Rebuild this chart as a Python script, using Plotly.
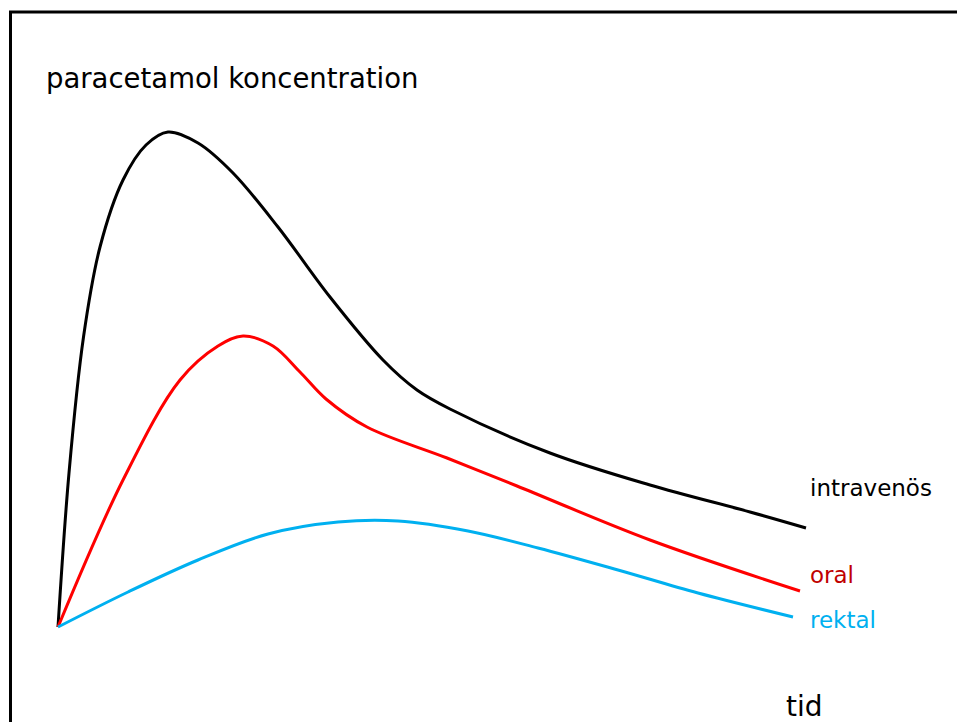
import plotly.graph_objects as go

# time (arbitrary units) and concentration (arbitrary units), origin at dose
iv_t = [0, 11, 25.5, 42, 65, 88, 110, 140, 175, 220, 272, 325, 359, 392, 492, 592, 692, 748]
iv_c = [0, 154, 290, 380, 447, 482, 495, 484, 454, 400, 330, 267, 237, 218, 174, 142, 115, 99]

oral_t = [0, 65, 122, 160, 185, 215, 242, 268, 309, 389, 459, 592, 742]
oral_c = [0, 147, 247, 281, 291, 281, 255, 228, 200, 169, 141, 87, 36]

rek_t = [0, 70, 140, 210, 280, 340, 410, 480, 560, 640, 735]
rek_c = [0, 35, 67, 93, 105, 106, 96, 79, 57, 34, 10]

fig = go.Figure()
fig.add_trace(go.Scatter(x=iv_t, y=iv_c, mode="lines", line=dict(color="#000000", width=3, shape="spline", smoothing=1), name="intravenös"))
fig.add_trace(go.Scatter(x=oral_t, y=oral_c, mode="lines", line=dict(color="#FF0000", width=3, shape="spline", smoothing=1), name="oral"))
fig.add_trace(go.Scatter(x=rek_t, y=rek_c, mode="lines", line=dict(color="#00B0F0", width=3, shape="spline", smoothing=1), name="rektal"))

font = "Tahoma, DejaVu Sans, sans-serif"
anns = [
    dict(x=-14, y=549, text="paracetamol koncentration", font=dict(size=27.5, color="#000000", family=font)),
    dict(x=750, y=139, text="intravenös", font=dict(size=23, color="#000000", family=font)),
    dict(x=750, y=52, text="oral", font=dict(size=23, color="#C00000", family=font)),
    dict(x=750, y=7, text="rektal", font=dict(size=23, color="#00B0F0", family=font)),
    dict(x=726, y=-79, text="tid", font=dict(size=28, color="#000000", family=font)),
]
for a in anns:
    fig.add_annotation(xref="x", yref="y", xanchor="left", yanchor="middle", showarrow=False, **a)

W, H = 957, 722
# frame: left and top border lines
fig.add_shape(type="line", xref="paper", yref="paper", x0=10.5/W, x1=10.5/W, y0=0, y1=1 - 12/H, line=dict(color="black", width=3))
fig.add_shape(type="line", xref="paper", yref="paper", x0=9/W, x1=1, y0=1 - 12/H, y1=1 - 12/H, line=dict(color="black", width=3))

fig.update_layout(
    width=W, height=H, margin=dict(l=0, r=0, t=0, b=0),
    paper_bgcolor="white", plot_bgcolor="white", showlegend=False,
    xaxis=dict(range=[-58, 899], visible=False, fixedrange=True),
    yaxis=dict(range=[-95, 627], visible=False, fixedrange=True),
)
fig.write_html("out.html", config={"displayModeBar": False},
               post_script="document.body.style.margin='0';document.body.style.overflow='hidden';")
